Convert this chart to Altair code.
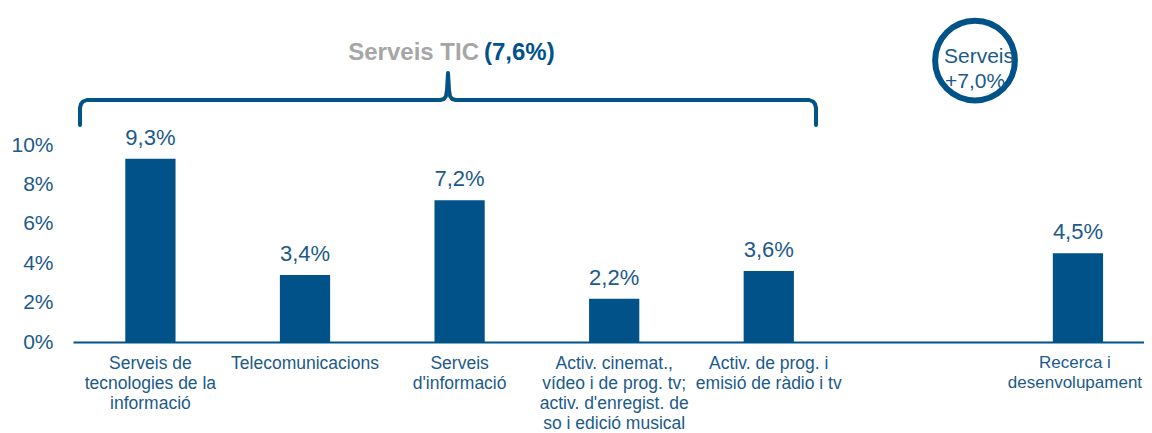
import altair as alt
import pandas as pd

categories = [
    "Serveis de|tecnologies de la|informació",
    "Telecomunicacions",
    "Serveis|d'informació",
    "Activ. cinemat.,|vídeo i de prog. tv;|activ. d'enregist. de|so i edició musical",
    "Activ. de prog. i|emisió de ràdio i tv",
    " ",
    "Recerca i|desenvolupament",
]
values = [9.3, 3.4, 7.2, 2.2, 3.6, None, 4.5]
value_labels = ["9,3%", "3,4%", "7,2%", "2,2%", "3,6%", "", "4,5%"]
y_ticks = [0, 2, 4, 6, 8, 10]

group_title = "Serveis TIC "
group_value = "(7,6%)"
badge_lines = ["Serveis", "+7,0%"]

BAR = "#005288"
TXT = "#1B5A8A"
FONT = "Liberation Sans"

W, H = 1071, 334
ymax = 334 / 19.7
LAST = categories[-1]

df = pd.DataFrame({"cat": categories, "val": values, "lab": value_labels})
df_bars = df.dropna()

xscale = alt.Scale(domain=categories, paddingInner=0.675, paddingOuter=0.3015, align=0.561)
xenc = alt.X("cat:N", scale=xscale,
             axis=alt.Axis(title=None, labelAngle=0, labelExpr="split(datum.label, '|')",
                           labelFont=FONT,
                           labelFontSize={"condition": {"test": f"datum.value == '{LAST}'", "value": 17},
                                          "value": 17.5},
                           labelOffset={"condition": {"test": f"datum.value == '{LAST}'", "value": -3},
                                        "value": 0},
                           labelColor=TXT,
                           labelLineHeight=20, labelPadding=12, ticks=False,
                           domainColor=BAR, domainWidth=2, labelLimit=300))
yenc = alt.Y("val:Q", scale=alt.Scale(domain=[0, ymax], nice=False),
             axis=alt.Axis(title=None, values=y_ticks, labelExpr="datum.value + '%'",
                           labelFont=FONT, labelFontSize=21, labelColor=TXT,
                           labelPadding=20, ticks=False, domain=False, grid=False))

bars = alt.Chart(df_bars).mark_bar(color=BAR).encode(x=xenc, y=yenc)
labels = alt.Chart(df_bars).mark_text(font=FONT, fontSize=22, color=TXT,
                                      baseline="alphabetic", dy=-14).encode(
    x=alt.X("cat:N", scale=xscale), y="val:Q", text="lab:N")
main = alt.layer(bars, labels)

# brace annotation (pixel coordinates within plot)
bx = [80, 80, 81, 83, 87, 440, 444, 446, 447, 448, 449, 450, 452, 456,
      809, 813, 815, 816, 816]
by = [125, 108, 104, 101.5, 100, 100, 99, 96, 90, 73, 90, 96, 99, 100,
      100, 101.5, 104, 108, 125]
brace_df = pd.DataFrame({"px": [x - 73 for x in bx], "py": [y - 8 for y in by],
                         "o": list(range(len(bx)))})
brace = alt.Chart(brace_df).mark_line(color=BAR, strokeWidth=4, strokeCap="round",
                                      strokeJoin="round").encode(
    x=alt.X("px:Q", scale=None, axis=None),
    y=alt.Y("py:Q", scale=None, axis=None),
    order="o:Q")

one = pd.DataFrame({"k": [0]})
t1 = alt.Chart(one).mark_text(font=FONT, fontSize=24, fontWeight="bold", color="#A6A6A6",
                              align="right", baseline="alphabetic", text=group_title).encode(
    x=alt.value(406), y=alt.value(52))
t2 = alt.Chart(one).mark_text(font=FONT, fontSize=24, fontWeight="bold", color=BAR,
                              align="left", baseline="alphabetic", text=group_value).encode(
    x=alt.value(411), y=alt.value(52))

circle = alt.Chart(one).mark_point(shape="circle", filled=False, size=6360,
                                   strokeWidth=6, color=BAR, opacity=1).encode(
    x=alt.value(902), y=alt.value(52.5))
c1 = alt.Chart(one).mark_text(font=FONT, fontSize=21, color=TXT, align="center",
                              baseline="alphabetic", text=badge_lines[0]).encode(
    x=alt.value(906), y=alt.value(55))
c2 = alt.Chart(one).mark_text(font=FONT, fontSize=21, color=TXT, align="center",
                              baseline="alphabetic", text=badge_lines[1]).encode(
    x=alt.value(902), y=alt.value(80))

chart = alt.layer(main, brace, t1, t2, circle, c1, c2).resolve_scale(
    x="independent", y="independent"
).properties(
    width=W, height=H,
    autosize=alt.AutoSizeParams(type="none"),
    padding={"left": 65, "top": 0, "right": 0, "bottom": 91},
).configure_view(stroke=None)

chart.save("out.html", embed_options={"renderer": "svg", "actions": False})
